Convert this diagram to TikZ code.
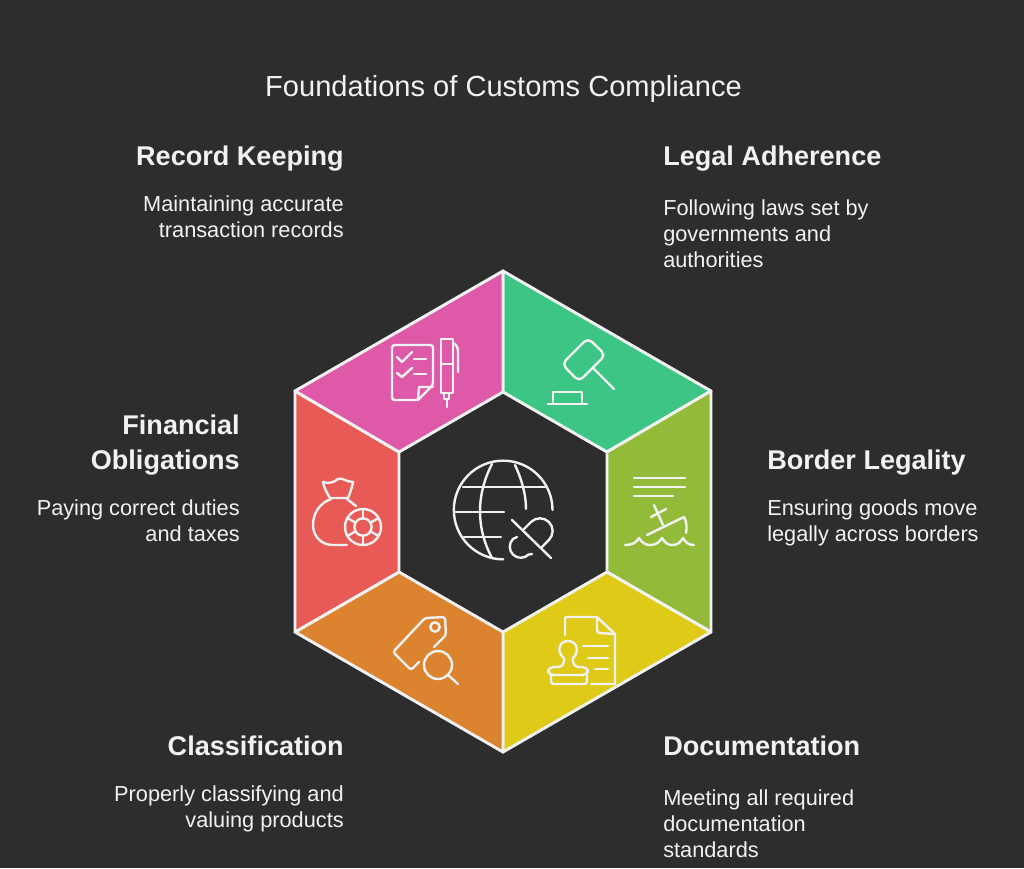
\documentclass[tikz,border=0pt]{standalone}
\usepackage{fontspec}
\usetikzlibrary{calc}
\setmainfont{Liberation Sans}
\definecolor{bgdark}{HTML}{2D2D2D}
\definecolor{inkwhite}{HTML}{F2F2F2}
\definecolor{petalpink}{HTML}{DE5AA9}
\definecolor{petalgreen}{HTML}{3DC585}
\definecolor{petalolive}{HTML}{94BA3A}
\definecolor{petalyellow}{HTML}{DFCB17}
\definecolor{petalorange}{HTML}{DC8330}
\definecolor{petalred}{HTML}{E75A55}
\tikzset{
  petal/.style={draw=inkwhite, line width=2.2pt, line join=round},
  icon/.style={draw=inkwhite, line width=1.8pt, line cap=round, line join=round},
  titletext/.style={text=inkwhite, inner sep=0pt, anchor=base, font=\fontsize{21.8pt}{24pt}\selectfont},
  headleft/.style={text=inkwhite, inner sep=0pt, anchor=base west, align=left, font=\fontsize{20.3pt}{26.2pt}\selectfont\bfseries},
  headright/.style={text=inkwhite, inner sep=0pt, anchor=base east, align=right, font=\fontsize{20.3pt}{26.2pt}\selectfont\bfseries},
  bodyleft/.style={text=inkwhite, inner sep=0pt, anchor=base west, align=left, font=\fontsize{16.3pt}{19.5pt}\selectfont},
  bodyright/.style={text=inkwhite, inner sep=0pt, anchor=base east, align=right, font=\fontsize{16.3pt}{19.5pt}\selectfont}
}
\begin{document}
\begin{tikzpicture}[x=0.75pt, y=-0.75pt]
  \useasboundingbox[fill=bgdark] (0,0) rectangle (1024,868);
  % hexagon corners
  \coordinate (ot) at (503,271);
  \coordinate (oe) at (711,391);
  \coordinate (of) at (711,632);
  \coordinate (ob) at (503,752);
  \coordinate (og) at (295,632);
  \coordinate (oh) at (295,391);
  \coordinate (it) at (503,392);
  \coordinate (ie) at (607,452);
  \coordinate (if) at (607,572);
  \coordinate (ib) at (503,632);
  \coordinate (ig) at (399,572);
  \coordinate (ih) at (399,452);
  \draw[petal, fill=petalgreen] (ot) -- (oe) -- (ie) -- (it) -- cycle;
  \draw[petal, fill=petalolive] (oe) -- (of) -- (if) -- (ie) -- cycle;
  \draw[petal, fill=petalyellow] (of) -- (ob) -- (ib) -- (if) -- cycle;
  \draw[petal, fill=petalorange] (ob) -- (og) -- (ig) -- (ib) -- cycle;
  \draw[petal, fill=petalred] (og) -- (oh) -- (ih) -- (ig) -- cycle;
  \draw[petal, fill=petalpink] (oh) -- (ot) -- (it) -- (ih) -- cycle;

  % texts
  \node[titletext] (title) at (503.5,96) {Foundations of Customs Compliance};
  \node[headright] (recordhead) at (344,165) {Record Keeping};
  \node[bodyright] (recordbody) at (344,237) {Maintaining accurate\\transaction records};
  \node[headleft] (legalhead) at (663,165) {Legal Adherence};
  \node[bodyleft] (legalbody) at (663,267) {Following laws set by\\governments and\\authorities};
  \node[headleft] (borderhead) at (767,469) {Border Legality};
  \node[bodyleft] (borderbody) at (767,541) {Ensuring goods move\\legally across borders};
  \node[headleft] (dochead) at (663,755) {Documentation};
  \node[bodyleft] (docbody) at (663,857) {Meeting all required\\documentation\\standards};
  \node[headright] (classhead) at (344,755) {Classification};
  \node[bodyright] (classbody) at (344,827) {Properly classifying and\\valuing products};
  \node[headright] (finhead) at (240,469) {Financial\\Obligations};
  \node[bodyright] (finbody) at (240,541) {Paying correct duties\\and taxes};

  % checklist and pen
  \draw[icon, rounded corners=2pt] (418,400) -- (392,400) -- (392,345) -- (433,345) -- (433,385) -- (418,400);
  \draw[icon] (418,400) -- (419,387) -- (433,387);
  \draw[icon] (397,357) -- (402,362) -- (412,352);
  \draw[icon] (397,373) -- (402,377) -- (412,368);
  \draw[icon] (414,359) -- (426,359);
  \draw[icon] (414,374) -- (426,374);
  \draw[icon] (441,339) rectangle (453,393);
  \draw[icon] (441,364) -- (453,364);
  \draw[icon] (453,343) .. controls (457,345) and (458,348) .. (458,352) -- (458,372);
  \draw[icon] (444,393) rectangle (449,399);
  \draw[icon] (447,399) -- (447,407);

  % gavel
  \draw[icon, rounded corners=4pt] (588,338) -- (605.5,355) -- (579,381.5) -- (562,364) -- cycle;
  \draw[icon] (593,368) -- (614,389);
  \draw[icon] (548,404) -- (587,404);
  \draw[icon] (553,404) -- (553,392) -- (582,392) -- (582,404);

  % ship
  \draw[icon] (634,478) -- (685,478);
  \draw[icon] (634,487) -- (685,487);
  \draw[icon] (634,496) -- (673,496);
  \draw[icon] (654,505) -- (663,525);
  \draw[icon] (651,517) -- (666,509);
  \draw[icon] (647,535) -- (684,517) .. controls (687,522) and (687,528) .. (686,533);
  \draw[icon] (625,545) .. controls (632,545) and (636,543) .. (639,538)
    .. controls (642,543) and (646,545) .. (650,545)
    .. controls (655,545) and (659,543) .. (662,538)
    .. controls (665,543) and (668,545) .. (672,545)
    .. controls (677,545) and (680,543) .. (683,538)
    .. controls (686,543) and (689,545) .. (694,545);

  % stamp and document
  \draw[icon] (565,635) -- (565,619) .. controls (565,618) and (566,617) .. (567,617) -- (597,617) -- (615,634) -- (615,684) -- (591,684);
  \draw[icon] (597,617) -- (597,630) .. controls (597,632) and (598,633) .. (600,633) -- (615,634);
  \draw[icon] (583,646) -- (608,646);
  \draw[icon] (588,658) -- (608,658);
  \draw[icon] (595,669) -- (608,669);
  \draw[icon, rounded corners=2pt] (551,675) -- (551,684) -- (587,684) -- (587,675);
  \draw[icon, rounded corners=4pt] (568,675) -- (548,675) -- (548,667) -- (564,667) -- (564,658);
  \draw[icon] (564,658) .. controls (556,652) and (559,641) .. (568,641) .. controls (577,641) and (580,652) .. (573,658);
  \draw[icon, rounded corners=4pt] (573,658) -- (573,667) -- (588,667) -- (588,675) -- (568,675);

  % tag and magnifier
  \draw[icon, rounded corners=2pt] (419,662) -- (411,670) -- (393,652) -- (425,618) -- (445,617) -- (446,635) -- (434,647);
  \draw[icon] (435,627) circle[radius=3.5pt];
  \draw[icon] (438,665) circle[radius=10.5pt];
  \draw[icon] (448,675) -- (458,684);

  % bag and coin
  \draw[icon] (330,498) .. controls (327,493) and (324,488) .. (323,482)
    .. controls (330,484) and (334,482) .. (338,479)
    .. controls (342,477) and (346,482) .. (353,482)
    .. controls (352,488) and (350,493) .. (348,498) -- cycle;
  \draw[icon] (331,499) .. controls (320,503) and (313,513) .. (313,525)
    .. controls (313,537) and (322,545) .. (333,545) -- (347,545);
  \draw[icon] (347,499) -- (356,506);
  \draw[icon] (363,527) circle[radius=13.5pt];
  \draw[icon] (363,527) circle[radius=6.5pt];
  \foreach \ang in {30,90,150,210,270,330}
    \draw[icon] ($(363,527)+(\ang:6.5pt)$) -- ($(363,527)+(\ang:13.5pt)$);

  % globe with broken link
  \draw[icon] (552.5,510) arc[start angle=0, end angle=270, radius=37pt];
  \draw[icon] (492,464) .. controls (476,495) and (476,528) .. (492,558);
  \draw[icon] (515,465) .. controls (522,480) and (526,495) .. (526,509);
  \draw[icon] (463,487) -- (545,487);
  \draw[icon] (455,512) -- (504,512);
  \draw[icon] (464,537) -- (501,537);
  \draw[icon] (512,520) -- (551,558);
  \draw[icon] (524,529) -- (531,522) arc[start angle=135, end angle=-45, radius=9.5pt] -- (541,548);
  \draw[icon] (517,537) -- (513,539) arc[start angle=135, end angle=315, radius=8.25pt] -- (532,554);
\end{tikzpicture}
\end{document}
